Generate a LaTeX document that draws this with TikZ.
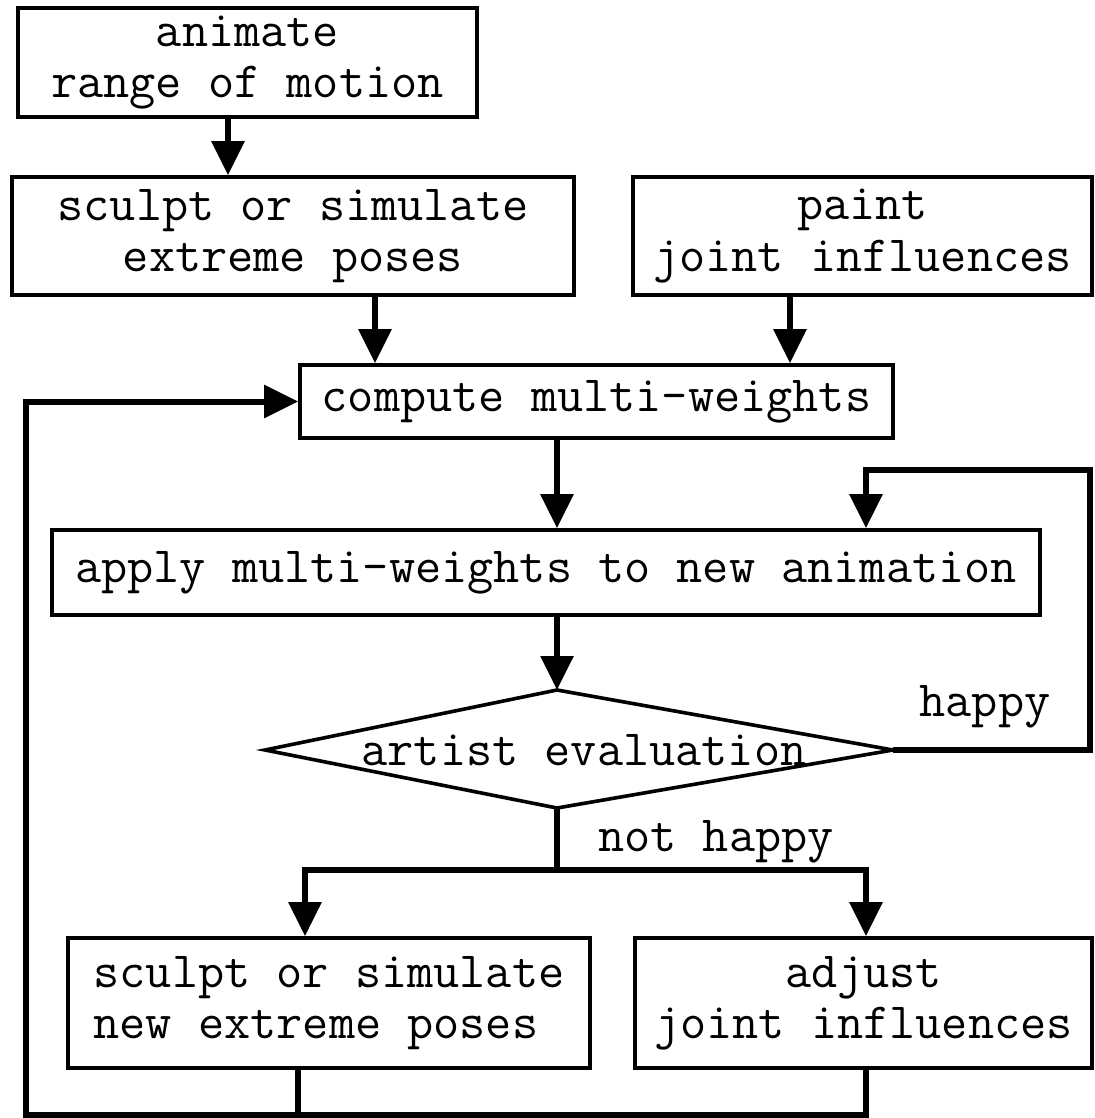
\documentclass[tikz,border=0pt]{standalone}
\usepackage{fontspec}
\usetikzlibrary{arrows.meta}

\begin{document}
\begin{tikzpicture}[x=0.5pt,y=-0.5pt,>={Triangle[length=17pt,width=16pt]},
                    flow/.style={line width=3pt},
                    stage/.style={draw,line width=1.8pt,inner sep=0pt,align=center,
                      font=\ttfamily\fontsize{25.4}{25.6}\selectfont},
                    tag/.style={inner sep=0pt,font=\ttfamily\fontsize{25.4}{25.6}\selectfont}]
  \useasboundingbox (0,0) rectangle (1094,1118);
  \clip (0,0) rectangle (1094,1118);

  \node[stage,minimum width=229.5pt,minimum height=54.5pt] (anim)   at (247.5,62.5) {animate\\range of motion};
  \node[stage,minimum width=281pt,minimum height=59pt]     (sculpt) at (293,236) {sculpt or simulate\\extreme poses};
  \node[stage,minimum width=229.5pt,minimum height=59pt]   (paint)  at (862.5,236) {paint\\joint influences};
  \node[stage,minimum width=296.5pt,minimum height=36.5pt] (compute) at (596.5,401.5) {compute multi-weights};
  \node[stage,minimum width=494pt,minimum height=42.5pt]   (apply)  at (546,572.5) {apply multi-weights to new animation};

  % decision
  \coordinate (eval-n) at (557,690);
  \coordinate (eval-e) at (893,750);
  \coordinate (eval-s) at (557,808);
  \coordinate (eval-w) at (265,750);
  \draw[line width=1.8pt,line join=miter] (eval-w) -- (eval-n) -- (eval-e) -- (eval-s) -- cycle;
  \node[tag] (eval) at (584,750) {artist evaluation};

  \node[stage,align=left,minimum width=261pt,minimum height=65pt] (newpose) at (329,1003) {sculpt or simulate\\new extreme poses};
  \node[stage,minimum width=228.5pt,minimum height=65pt]          (adjust)  at (863.5,1003) {adjust\\joint influences};

  \node[tag] (happy)    at (985,707) {happy};
  \node[tag] (nothappy) at (716,842) {not happy};

  \draw[flow,->] (anim.south -| 228,0) -- (sculpt.north -| 228,0);
  \draw[flow,->] (sculpt.south -| 375,0) -- (compute.north -| 375,0);
  \draw[flow,->] (paint.south -| 790,0) -- (compute.north -| 790,0);
  \draw[flow,->] (compute.south -| 557,0) -- (apply.north -| 557,0);
  \draw[flow,->] (apply.south -| 557,0) -- (eval-n);
  \draw[flow,->] (eval-e) -| (1090,470) -| (apply.north -| 866,0);
  \draw[flow] (eval-s) -- (557,870) coordinate (split);
  \draw[flow,->] (split) -| (newpose.north -| 305,0);
  \draw[flow,->] (split) -| (adjust.north -| 866,0);
  % loop back
  \draw[flow] (newpose.south -| 298,0) -- (298,1115);
  \draw[flow,->] (adjust.south -| 866,0) |- (26,1115) |- (compute.west);
\end{tikzpicture}
\end{document}
